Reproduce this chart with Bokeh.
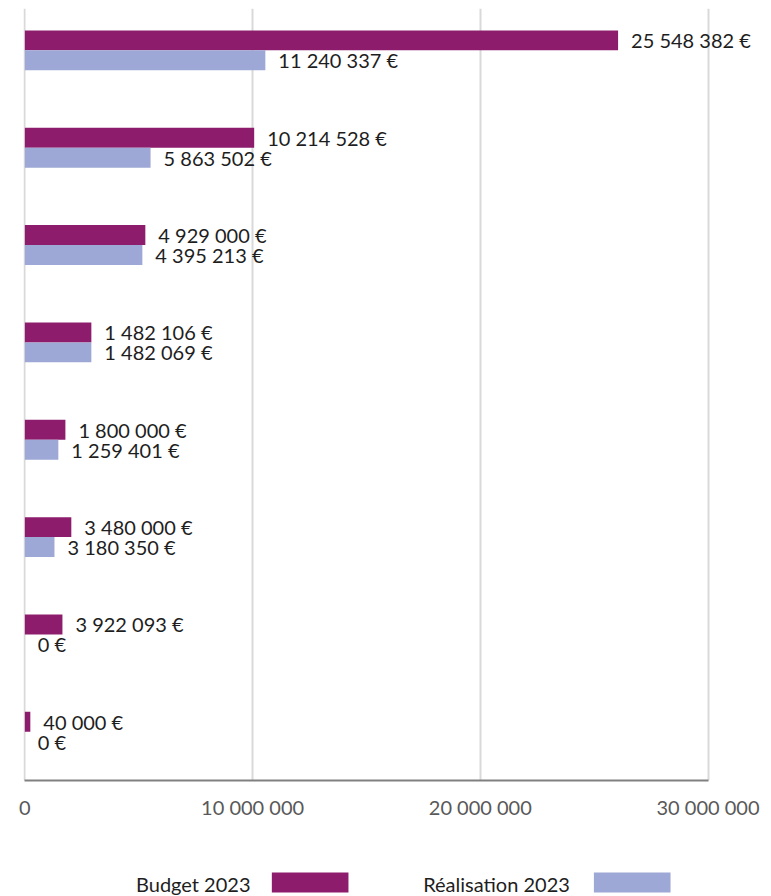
from bokeh.plotting import figure
from bokeh.layouts import column
from bokeh.models import Range1d, FixedTicker, ColumnDataSource
from bokeh.core.properties import value
from bokeh.embed import file_html
from bokeh.resources import INLINE

# ---- data (rows from top to bottom) ----
rows = [0, 1, 2, 3, 4, 5, 6, 7]
budget_bar = [26050000, 10070000, 5290000, 2920000, 1780000, 2040000, 1650000, 240000]
realisation_bar = [10560000, 5520000, 5160000, 2920000, 1470000, 1300000, 0, 0]
budget_labels = ["25 548 382 €", "10 214 528 €", "4 929 000 €", "1 482 106 €",
                 "1 800 000 €", "3 480 000 €", "3 922 093 €", "40 000 €"]
realisation_labels = ["11 240 337 €", "5 863 502 €", "4 395 213 €", "1 482 069 €",
                      "1 259 401 €", "3 180 350 €", "0 €", "0 €"]
series_names = ["Budget 2023", "Réalisation 2023"]
series_colors = ["#8D1C6C", "#9EA8D6"]
x_ticks = [0, 10000000, 20000000, 30000000]
x_tick_labels = ["0", "10 000 000", "20 000 000", "30 000 000"]

FONT = "Lato"
BAR_H = 0.205

n = len(rows)
ypos = [n - 1 - r for r in rows]

src = ColumnDataSource(dict(
    yb=[y + BAR_H / 2 for y in ypos],
    yr=[y - BAR_H / 2 for y in ypos],
    budget=budget_bar,
    real=realisation_bar,
    blab=budget_labels,
    rlab=realisation_labels,
))

p = figure(frame_width=745, frame_height=772,
           x_range=Range1d(-60000, 32655000), y_range=Range1d(-0.5, 7.43),
           output_backend="svg", toolbar_location=None,
           y_axis_location=None,
           min_border_left=23, min_border_right=0,
           min_border_top=8, min_border_bottom=48)
p.outline_line_color = None
p.background_fill_color = "white"
p.border_fill_color = "white"

p.ygrid.visible = False
p.xgrid.ticker = FixedTicker(ticks=x_ticks)
p.xgrid.grid_line_color = "#D9D9D9"
p.xgrid.grid_line_width = 2

ax = p.xaxis[0]
ax.ticker = FixedTicker(ticks=x_ticks)
ax.bounds = (0, 30000000)
ax.major_label_overrides = {t: l for t, l in zip(x_ticks, x_tick_labels)}
ax.axis_line_color = "#808080"
ax.axis_line_width = 2
ax.major_tick_line_color = None
ax.minor_tick_line_color = None
ax.major_tick_out = 0
ax.major_tick_in = 0
ax.major_label_standoff = 14
ax.major_label_text_font = FONT
ax.major_label_text_font_size = "20px"
ax.major_label_text_color = "#595959"

p.hbar(y="yb", right="budget", left=0, height=BAR_H, source=src,
       fill_color=series_colors[0], line_color=None)
p.hbar(y="yr", right="real", left=0, height=BAR_H, source=src,
       fill_color=series_colors[1], line_color=None)

p.text(x="budget", y="yb", text="blab", source=src, x_offset=13,
       text_baseline="middle", text_align="left",
       text_font=value(FONT), text_font_size="20px", text_color="#1E1E1E")
p.text(x="real", y="yr", text="rlab", source=src, x_offset=13,
       text_baseline="middle", text_align="left",
       text_font=value(FONT), text_font_size="20px", text_color="#1E1E1E")

# ---- legend strip (label, then colour swatch) ----
leg = figure(width=768, height=68, x_range=Range1d(0, 768), y_range=Range1d(0, 68),
             output_backend="svg", toolbar_location=None,
             x_axis_location=None, y_axis_location=None,
             min_border=0)
leg.outline_line_color = None
leg.grid.visible = False
leg_src = ColumnDataSource(dict(
    tx=[116, 412],
    sl=[256, 588],
    sr=[335, 667],
    name=series_names,
    color=series_colors,
))
leg.text(x="tx", y=13, text="name", source=leg_src, text_baseline="middle",
         text_align="left", text_font=value(FONT), text_font_size="20px",
         text_color="#1E1E1E")
leg.quad(left="sl", right="sr", bottom=4, top=24, source=leg_src,
         fill_color="color", line_color=None)

layout = column(p, leg, spacing=0)
open("out.html", "w").write(file_html(layout, INLINE))
